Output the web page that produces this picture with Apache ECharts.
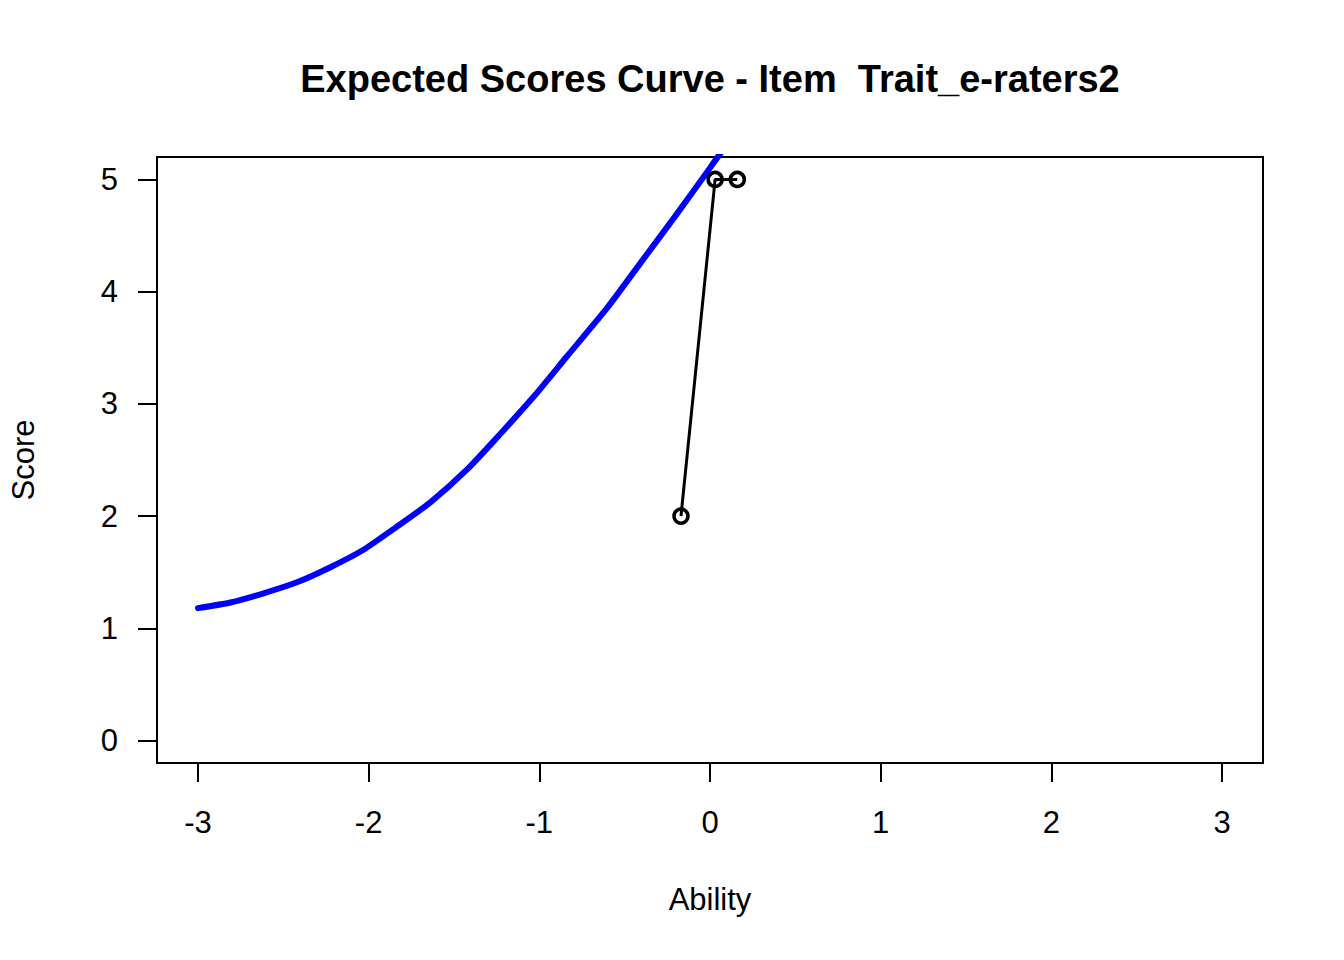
<!DOCTYPE html>
<html>
<head>
<meta charset="utf-8">
<script src="https://cdn.jsdelivr.net/npm/echarts@6/dist/echarts.min.js"></script>
<style>
html,body{margin:0;padding:0;background:#fff;}
#chart{width:1344px;height:960px;}
</style>
</head>
<body>
<div id="chart"></div>
<script>
// Expected score curve
const curveAbility = [-3.00, -2.81, -2.62, -2.42, -2.23, -2.03, -1.84, -1.64, -1.42, -1.23, -1.03, -0.84, -0.60, -0.41, -0.21, -0.02, 0.05, 0.15];
const curveScore   = [1.18, 1.23, 1.31, 1.41, 1.54, 1.70, 1.90, 2.12, 2.42, 2.73, 3.07, 3.42, 3.86, 4.25, 4.66, 5.06, 5.21, 5.41];
// Observed points
const obsAbility = [-0.17, 0.03, 0.16];
const obsScore   = [2, 5, 5];
// Tick labels
const xTicks = [-3, -2, -1, 0, 1, 2, 3];
const yTicks = [0, 1, 2, 3, 4, 5];
const titleText = 'Expected Scores Curve - Item  Trait_e-raters2';

const FONT = '"Liberation Sans", Arial, Helvetica, sans-serif';
const chart = echarts.init(document.getElementById('chart'), null, {renderer: 'svg'});
chart.setOption({
  animation: false,
  backgroundColor: '#fff',
  title: {
    text: titleText,
    left: 710, top: 60, padding: 0, textAlign: 'center',
    textStyle: {fontFamily: FONT, fontSize: 38, fontWeight: 'bold', color: '#000'}
  },
  grid: {left: 157, right: 81, top: 157, bottom: 197, show: true, borderColor: '#000', borderWidth: 2, backgroundColor: 'transparent'},
  xAxis: {
    type: 'value', min: -3.24, max: 3.24,
    name: 'Ability', nameLocation: 'middle', nameGap: 121,
    nameTextStyle: {fontFamily: FONT, fontSize: 31, color: '#000'},
    axisLine: {show: false, onZero: false},
    splitLine: {show: false},
    axisTick: {show: true, customValues: xTicks, length: 19, inside: false, lineStyle: {color: '#000', width: 2}},
    axisLabel: {show: true, customValues: xTicks, margin: 44, fontFamily: FONT, fontSize: 31, color: '#000'}
  },
  yAxis: {
    type: 'value', min: -0.2, max: 5.2,
    name: 'Score', nameLocation: 'middle', nameGap: 118, nameRotate: 90,
    nameTextStyle: {fontFamily: FONT, fontSize: 31, color: '#000'},
    axisLine: {show: false, onZero: false},
    splitLine: {show: false},
    axisTick: {show: true, customValues: yTicks, length: 19, inside: false, lineStyle: {color: '#000', width: 2}},
    axisLabel: {show: true, customValues: yTicks, margin: 39, fontFamily: FONT, fontSize: 31, color: '#000'}
  },
  series: [
    {
      type: 'line',
      data: curveAbility.map((x, i) => [x, curveScore[i]]),
      smooth: 0.2,
      showSymbol: false, symbol: 'none',
      clip: true,
      lineStyle: {color: '#0000ff', width: 6, cap: 'round', join: 'round'}
    },
    {
      type: 'line',
      data: obsAbility.map((x, i) => [x, obsScore[i]]),
      symbol: 'circle', symbolSize: 14, showSymbol: true,
      clip: true,
      lineStyle: {color: '#000', width: 3},
      itemStyle: {color: 'rgba(0,0,0,0)', borderColor: '#000', borderWidth: 3.5}
    }
  ]
});
</script>
</body>
</html>
